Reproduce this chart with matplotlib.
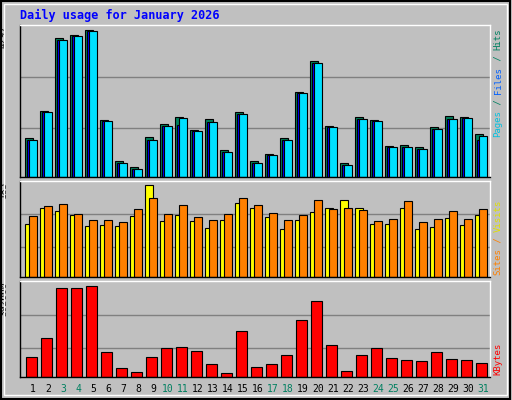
import matplotlib.pyplot as plt
import numpy as np

days = list(range(1, 32))
weekend = [3, 4, 10, 11, 17, 18, 24, 25, 31]

hits = [1144, 1931, 4063, 4151, 4297, 1663, 476, 301, 1157, 1556, 1760, 1381, 1682, 797, 1906, 476, 680, 1127, 2469, 3373, 1497, 418, 1760, 1672, 914, 943, 885, 1468, 1789, 1760, 1264]
files = [1085, 1901, 4005, 4122, 4268, 1633, 418, 243, 1089, 1497, 1527, 1351, 1614, 739, 1848, 418, 651, 1089, 2440, 3315, 1468, 360, 1702, 1643, 885, 885, 826, 1410, 1702, 1730, 1089]
pages = [1085, 1901, 4005, 4122, 4268, 1633, 418, 243, 1089, 1497, 1730, 1351, 1614, 739, 1848, 418, 651, 1089, 2440, 3315, 1468, 360, 1702, 1643, 885, 885, 826, 1410, 1702, 1730, 1206]

visits = [106, 139, 133, 125, 103, 105, 103, 123, 185, 112, 125, 112, 98, 114, 149, 139, 121, 96, 114, 131, 139, 155, 139, 106, 106, 139, 96, 100, 119, 105, 125]
sites = [123, 143, 147, 127, 114, 114, 110, 137, 159, 127, 145, 121, 114, 127, 159, 145, 129, 116, 125, 155, 137, 139, 135, 112, 118, 153, 110, 118, 133, 118, 137]

kbytes = [87973, 169655, 384061, 384061, 392660, 109470, 37255, 20057, 87973, 126668, 130967, 113769, 57803, 15758, 196352, 41554, 57803, 96572, 246507, 328167, 139566, 24356, 96572, 126668, 83674, 75075, 70776, 109470, 79375, 75075, 61907]

BG = '#c0c0c0'
GRID = '#808080'
MONO = 'DejaVu Sans Mono'

fig = plt.figure(figsize=(5.12, 4.0), dpi=100, facecolor=BG)
x = np.arange(31)


def px_axes(top, bottom):
    return fig.add_axes([20 / 512, 1 - bottom / 400, 470 / 512, (bottom - top) / 400])


def style(ax, ymax, grid_fracs, label):
    ax.set_facecolor(BG)
    ax.set_xlim(-1 / 3, 31)
    ax.set_ylim(0, ymax)
    for f in grid_fracs:
        ax.axhline(f, color=GRID, lw=1, zorder=0)
    ax.set_xticks([])
    ax.set_yticks([])
    for s in ax.spines.values():
        s.set_color('black')
        s.set_linewidth(1)
    ax.spines['top'].set_color('white')
    ax.spines['right'].set_color('white')
    ax.text(-0.035, 1, label, transform=ax.transAxes, rotation=90, ha='center',
            va='top', family=MONO, fontsize=6.8)


def right_label(ax, parts, bottom_px):
    # parts from bottom to top, stacked vertically
    y = bottom_px
    cw = 6.5 * 100 / 72 * 0.602
    for txt, col in parts:
        fig.text(498 / 512, 1 - y / 400, txt, rotation=90, ha='center', va='bottom',
                 family=MONO, fontsize=6.5, color=col)
        y -= cw * len(txt)


# top panel
ax1 = px_axes(25, 177)
style(ax1, 4297 * 152 / 147.3, [4297 * 0.681, 4297 * 0.335], '4297')
kw = dict(align='edge', width=0.5, edgecolor='black', linewidth=0.8)
ax1.bar(x, hits, color='#00805c', **kw)
ax1.bar(x + 0.13, files, color='#0000ff', **kw)
ax1.bar(x + 0.27, pages, color='#00e0ff', **kw)
right_label(ax1, [('Pages', '#00c0e0'), (' / ', '#008060'), ('Files', '#0060ff'),
                  (' / ', '#008060'), ('Hits', '#008060')], 137)

# middle panel
ax2 = px_axes(181, 277)
style(ax2, 185 * 96 / 91.7, [185 * 0.687, 185 * 0.327], '185')
ax2.bar(x, visits, color='#ffff00', **kw)
ax2.bar(x + 0.29, sites, color='#ff8000', **kw)
right_label(ax2, [('Sites', '#ff8000'), (' / ', '#ff8000'), ('Visits', '#e0e000')], 275)

# bottom panel
ax3 = px_axes(281, 377)
style(ax3, 392660 * 96 / 91.3, [392660 * 0.682, 392660 * 0.321], '392660')
ax3.bar(x + 0.07, kbytes, align='edge', width=0.71, color='#ff0000',
        edgecolor='black', linewidth=0.8)
right_label(ax3, [('KBytes', '#ff0000')], 375)
for d in days:
    ax3.text(d - 1 + 0.53, -0.13, str(d), transform=ax3.get_xaxis_transform(),
             ha='center', va='center', family=MONO, fontsize=7,
             color='#008060' if d in weekend else 'black')

fig.text(20 / 512, 1 - 15 / 400, 'Daily usage for January 2026', color='#0000ff',
         family=MONO, fontweight='bold', fontsize=8.5, va='center')

# frame
fig.add_artist(plt.Rectangle((0.002, 0.003), 0.995, 0.994, transform=fig.transFigure,
                             fill=False, edgecolor='black', lw=1.5))
fig.add_artist(plt.Rectangle((0.008, 0.012), 0.982, 0.978, transform=fig.transFigure,
                             fill=False, edgecolor='white', lw=1))

fig.savefig('out.png', dpi=100, facecolor=BG)
